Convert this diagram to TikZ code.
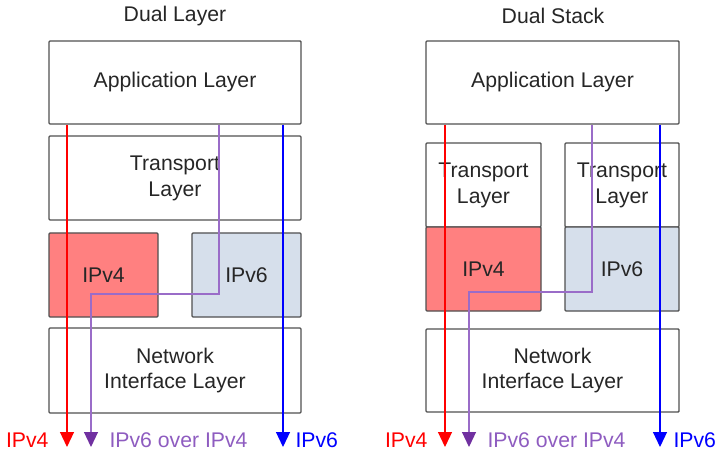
\documentclass[tikz,border=0pt]{standalone}
\usepackage{fontspec}
\setmainfont{Liberation Sans}
\usepackage{tikz}
\definecolor{boxline}{HTML}{505050}
\definecolor{vfour}{HTML}{FF8080}
\definecolor{vsix}{HTML}{D6DFEB}
\definecolor{viapurple}{HTML}{9A6CC8}
\definecolor{tippurple}{HTML}{7030A0}
\definecolor{txtpurple}{HTML}{8E5CC0}
\tikzset{
  layer/.style={draw=boxline, line width=1.4bp, rounded corners=1bp, inner sep=0pt, align=center, text=black!85},
  path4/.style={draw=red, line width=1.2bp, -{Triangle[length=15bp,width=14bp]}},
  path6/.style={draw=blue, line width=1.2bp, -{Triangle[length=15bp,width=14bp]}},
  pathmix/.style={draw=viapurple, line width=1.2bp, -{Triangle[length=15bp,width=14bp,color=tippurple]}},
}
\usetikzlibrary{arrows.meta}
\begin{document}
\begin{tikzpicture}[x=1bp, y=-1bp, font=\fontsize{21.3}{26}\selectfont]
    \useasboundingbox (0, 0) rectangle (721, 456);
    % Dual Layer
    \node[black!85](titleL)at(175, 16){Dual Layer};
    \node[layer, minimum width=252bp, minimum height=83bp](appL)at(175, 82.5){Application Layer};
    \node[layer, minimum width=252bp, minimum height=84bp](tranL)at(175, 178){Transport\\Layer};
    \node[layer, fill=vfour, minimum width=109bp, minimum height=84bp](fourL)at(103.5, 275){IPv4};
    \node[layer, fill=vsix, minimum width=109bp, minimum height=84bp](sixL)at(246.5, 275){IPv6};
    \node[layer, minimum width=252bp, minimum height=85bp](netL)at(175, 370.5){Network\\Interface Layer};
    \coordinate(endL4)at(67, 447);
    \coordinate(endLm)at(91, 447);
    \coordinate(endL6)at(283, 447);
    \draw[path4](appL.south -| endL4)--(endL4);
    \draw[pathmix](appL.south -| 219, 0)|-(91, 294)--(endLm);
    \draw[path6](appL.south -| endL6)--(endL6);
    \node[red, anchor=east](labL4)at(52, 440){IPv4};
    \node[txtpurple, anchor=west](labLm)at(106, 440){IPv6 over IPv4};
    \node[blue, anchor=west](labL6)at(292, 440){IPv6};
    % Dual Stack
    \node[black!85](titleR)at(553, 16){Dual Stack};
    \node[layer, minimum width=253bp, minimum height=83bp](appR)at(552.5, 82.5){Application Layer};
    \node[layer, minimum width=115bp, minimum height=84bp](tranRa)at(483.5, 185){Transport\\Layer};
    \node[layer, fill=vfour, minimum width=115bp, minimum height=84bp](fourR)at(483.5, 269){IPv4};
    \node[layer, minimum width=114bp, minimum height=84bp](tranRb)at(622, 185){Transport\\Layer};
    \node[layer, fill=vsix, minimum width=114bp, minimum height=84bp](sixR)at(622, 269){IPv6};
    \node[layer, minimum width=253bp, minimum height=83bp](netR)at(552.5, 370.5){Network\\Interface Layer};
    \coordinate(endR4)at(445, 447);
    \coordinate(endRm)at(469, 447);
    \coordinate(endR6)at(660, 447);
    \draw[path4](appR.south -| endR4)--(endR4);
    \draw[pathmix](appR.south -| 592, 0)|-(469, 292)--(endRm);
    \draw[path6](appR.south -| endR6)--(endR6);
    \node[red, anchor=east](labR4)at(431, 440){IPv4};
    \node[txtpurple, anchor=west](labRm)at(484, 440){IPv6 over IPv4};
    \node[blue, anchor=west](labR6)at(670, 440){IPv6};
\end{tikzpicture}
\end{document}
